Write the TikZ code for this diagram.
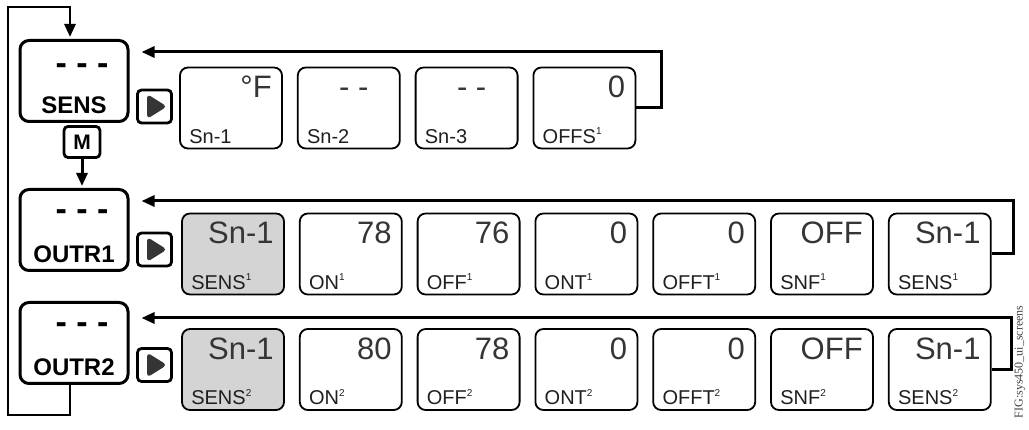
\documentclass[tikz,border=0pt]{standalone}
\usepackage{fontspec}
\setmainfont{Liberation Sans}
\newfontfamily\figfont{Liberation Serif}
\usetikzlibrary{arrows.meta,positioning,calc}
\definecolor{selgray}{HTML}{D4D4D4}
\definecolor{digitgray}{HTML}{353535}
\newcommand{\supn}[1]{\raisebox{8.5pt}{\fontsize{10pt}{10pt}\selectfont #1}}

\begin{document}
\begin{tikzpicture}[x=1pt,y=-1pt,
  node distance=14pt,
  mainbox/.style={draw,line width=3pt,rounded corners=9pt,minimum width=108pt,minimum height=81pt,inner sep=0pt},
  dashes/.style={anchor=base,font=\bfseries\fontsize{34pt}{34pt}\selectfont,inner sep=0pt},
  mainlbl/.style={anchor=base,font=\bfseries\fontsize{24pt}{24pt}\selectfont,inner sep=0pt},
  keybox/.style={draw,line width=2.8pt,rounded corners=4pt,minimum width=34pt,minimum height=33pt,inner sep=0pt},
  playkey/.style={keybox,path picture={
    \fill[digitgray] ([shift={(-7.5pt,12.5pt)}]path picture bounding box.center)
      -- ([shift={(12.5pt,0pt)}]path picture bounding box.center)
      -- ([shift={(-7.5pt,-12.5pt)}]path picture bounding box.center) -- cycle;}},
  screen/.style={draw,line width=1.8pt,rounded corners=8pt,minimum width=102pt,minimum height=81pt,inner sep=0pt},
  selscreen/.style={screen,fill=selgray},
  val/.style={anchor=base east,font=\fontsize{31pt}{31pt}\selectfont,text=digitgray,inner sep=0pt},
  lbl/.style={anchor=base west,font=\fontsize{20pt}{20pt}\selectfont,text=black!88,inner sep=0pt},
  link/.style={-{Triangle[length=13pt,width=11pt]},line width=3pt}
]
  \useasboundingbox (0,0) rectangle (1029,430);

  % menu keys on the left
  \node[mainbox] (sens) at (74,81) {};
  \node[dashes] (sensd) at ([shift={(8pt,-36pt)}]sens.north) {- - -};
  \node[mainlbl] (sensl) at ([yshift=9pt]sens.south) {SENS};
  \node[mainbox] (outr1) at (74,230) {};
  \node[dashes] (outr1d) at ([shift={(8pt,-33pt)}]outr1.north) {- - -};
  \node[mainlbl] (outr1l) at ([yshift=9pt]outr1.south) {OUTR1};
  \node[mainbox] (outr2) at (74,343) {};
  \node[dashes] (outr2d) at ([shift={(8pt,-33pt)}]outr2.north) {- - -};
  \node[mainlbl] (outr2l) at ([yshift=9pt]outr2.south) {OUTR2};
  \node[keybox,minimum width=36pt,minimum height=31pt,font=\bfseries\fontsize{21pt}{21pt}\selectfont] (mkey) at (82,142) {M};
  \node[playkey] (p1) at (154.5,106.5) {};
  \node[playkey] (p2) at (154.5,249.5) {};
  \node[playkey] (p3) at (154.5,365) {};

  % sensor screens
  \node[screen] (s1) at (231,108) {};
  \node[val] (sv1) at ([shift={(-11pt,-31pt)}]s1.north east) {°F};
  \node[lbl] (sl1) at ([shift={(10pt,6pt)}]s1.south west) {Sn-1};
  \foreach \v/\l [count=\i from 2, remember=\i as \j (initially 1)] in
    {{- -\kern21pt}/Sn-2,{- -\kern21pt}/Sn-3,0/{OFFS\supn{1}}}{
    \node[screen,right=of s\j] (s\i) {};
    \node[val] (sv\i) at ([shift={(-11pt,-31pt)}]s\i.north east) {\v};
    \node[lbl] (sl\i) at ([shift={(10pt,6pt)}]s\i.south west) {\l};
  }

  % output 1 screens
  \node[selscreen] (a1) at (233,254) {};
  \node[val] (av1) at ([shift={(-11pt,-31pt)}]a1.north east) {Sn-1};
  \node[lbl] (al1) at ([shift={(10pt,6pt)}]a1.south west) {SENS\supn{1}};
  \foreach \v/\l [count=\i from 2, remember=\i as \j (initially 1)] in
    {78/{ON\supn{1}},76/{OFF\supn{1}},0/{ONT\supn{1}},0/{OFFT\supn{1}},OFF/{SNF\supn{1}},Sn-1/{SENS\supn{1}}}{
    \node[screen,right=of a\j] (a\i) {};
    \node[val] (av\i) at ([shift={(-11pt,-31pt)}]a\i.north east) {\v};
    \node[lbl] (al\i) at ([shift={(10pt,6pt)}]a\i.south west) {\l};
  }

  % output 2 screens
  \node[selscreen] (b1) at (233,369.5) {};
  \node[val] (bv1) at ([shift={(-11pt,-31pt)}]b1.north east) {Sn-1};
  \node[lbl] (bl1) at ([shift={(10pt,6pt)}]b1.south west) {SENS\supn{2}};
  \foreach \v/\l [count=\i from 2, remember=\i as \j (initially 1)] in
    {80/{ON\supn{2}},78/{OFF\supn{2}},0/{ONT\supn{2}},0/{OFFT\supn{2}},OFF/{SNF\supn{2}},Sn-1/{SENS\supn{2}}}{
    \node[screen,right=of b\j] (b\i) {};
    \node[val] (bv\i) at ([shift={(-11pt,-31pt)}]b\i.north east) {\v};
    \node[lbl] (bl\i) at ([shift={(10pt,6pt)}]b\i.south west) {\l};
  }

  % return paths
  \draw[link] (s4.east) -- ++(25,0) |- ([shift={(12pt,-13pt)}]sens.north east);
  \draw[link] (a7.east) -- ++(22,0) |- ([shift={(12pt,-13pt)}]outr1.north east);
  \draw[link] (b7.east) -- ++(20,0) |- ([shift={(12pt,-17pt)}]outr2.north east);
  \draw[link,shorten >=2pt] (mkey.south) -- (mkey.south |- outr1.north);
  \coordinate (loopb) at (8,415);
  \coordinate (loopt) at (8,7);
  \draw[link,line width=2.8pt,shorten >=2pt] ([xshift=-4pt]outr2.south) |- (loopb) -- (loopt) -| ([xshift=-4pt]sens.north);

  \node[rotate=90,font=\figfont\fontsize{12pt}{12pt}\selectfont,text=black!75] (figtag) at (1020,362) {FIG:sys450\_ui\_screens};
\end{tikzpicture}
\end{document}
